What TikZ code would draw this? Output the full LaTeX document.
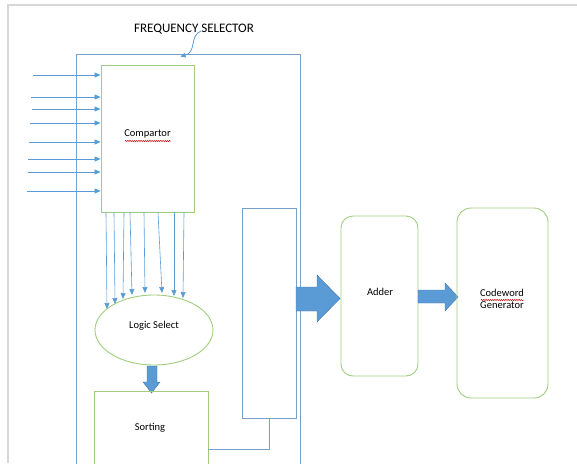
\documentclass[tikz,border=0pt]{standalone}
\usepackage{fontspec}
\setmainfont{Carlito}
\usetikzlibrary{arrows.meta,decorations.pathmorphing,shapes.geometric}
\definecolor{linkblue}{RGB}{91,155,213}
\definecolor{frameblue}{RGB}{120,160,200}
\definecolor{boxgreen}{RGB}{160,205,125}
\definecolor{pagegray}{RGB}{215,215,215}
\definecolor{arrowedge}{RGB}{65,119,170}
\tikzset{
  greenbox/.style={draw=boxgreen, line width=0.9pt, inner sep=0pt},
  bluebox/.style={draw=frameblue, line width=0.9pt, inner sep=0pt},
  thinarrow/.style={draw=linkblue, line width=0.8pt, -{Triangle[length=6pt,width=5pt]}},
  fatarrow/.style={fill=linkblue, draw=arrowedge, line width=0.4pt},
  wire/.style={draw=frameblue, line width=0.8pt},
  spellmark/.style={draw=red!80!black, line width=0.5pt, decorate,
    decoration={snake, amplitude=0.6pt, segment length=2.2pt}},
  lbl/.style={font=\fontsize{10.5}{12}\selectfont, inner sep=0pt}
}
\begin{document}
\begin{tikzpicture}[x=1pt,y=-1pt]
\useasboundingbox (0,0) rectangle (577,463);
\clip (0,0) rectangle (577,463);

% page edge
\draw[pagegray, line width=1.5pt] (8,463) -- (8,5) -- (577,5);

% frequency selector frame
\node[bluebox, minimum width=224pt, minimum height=440pt] (frame) at (188,274) {};
\node[font=\fontsize{13}{15}\selectfont, inner sep=0pt] (title) at (194,29) {FREQUENCY SELECTOR};
\coordinate (callout) at (180.5,56.5);
\draw[draw=linkblue, line width=0.8pt, -{Triangle[length=5pt,width=4.5pt]}]
  (201,31) .. controls (189,36) and (197,52) .. (callout);

% comparator with its inputs
\node[greenbox, minimum width=93pt, minimum height=147pt] (comp) at (147.5,138.5) {};
\node[lbl] (comptxt) at (147.5,134) {Compartor};
\draw[spellmark] (125,141) -- (171,141);
\foreach \sx/\y [count=\i] in {33/75, 31/97, 32/109, 30/123, 29/142, 28/159, 28/172, 27/191} {
  \coordinate (in\i) at (\sx,\y);
  \draw[thinarrow] (in\i) -- (comp.west |- in\i);
}

% logic select
\node[draw=boxgreen, line width=0.9pt, ellipse, minimum width=118pt, minimum height=70pt, inner sep=0pt] (logic) at (154,330) {};
\node[lbl] (logictxt) at (154,326) {Logic Select};
\foreach \sx/\ex/\ey in {106/107/309, 114/115/304, 124/123/299, 130/132/295, 144/145/293, 158/162/293, 174/174/296, 184/183/298} {
  \draw[thinarrow, line width=0.6pt] (comp.south -| \sx,0) -- (\ex,\ey);
}

% logic select -> sorting
\draw[fatarrow] (147,366) -- (157,366) -- (157,382) -- (160,382) -- (151.5,393) -- (143,382) -- (147,382) -- cycle;

% sorting
\node[greenbox, minimum width=114pt, minimum height=110pt] (sort) at (151,446) {};
\node[lbl] (sorttxt) at (150,428) {Sorting};

% register column
\node[bluebox, minimum width=54pt, minimum height=210pt] (reg) at (269,313) {};
\draw[wire] (sort.east |- 0,449) -| (reg.south);

% register -> adder
\draw[fatarrow] (296,287) -- (317,287) -- (317,275) -- (340,298.5) -- (317,322) -- (317,311) -- (296,311) -- cycle;

% adder
\node[greenbox, rounded corners=12pt, minimum width=77pt, minimum height=160pt] (adder) at (379.5,296) {};
\node[lbl] (addertxt) at (380,292) {Adder};

% adder -> codeword generator
\draw[fatarrow] (418,290) -- (445,290) -- (445,283) -- (458,297) -- (445,311) -- (445,303) -- (418,303) -- cycle;

% codeword generator
\node[greenbox, rounded corners=14pt, minimum width=91pt, minimum height=190pt] (gen) at (502.5,303) {};
\node[lbl, align=center] (gentxt) at (502,299) {Codeword\\Generator};
\draw[spellmark] (481,300) -- (524,300);

\end{tikzpicture}
\end{document}
